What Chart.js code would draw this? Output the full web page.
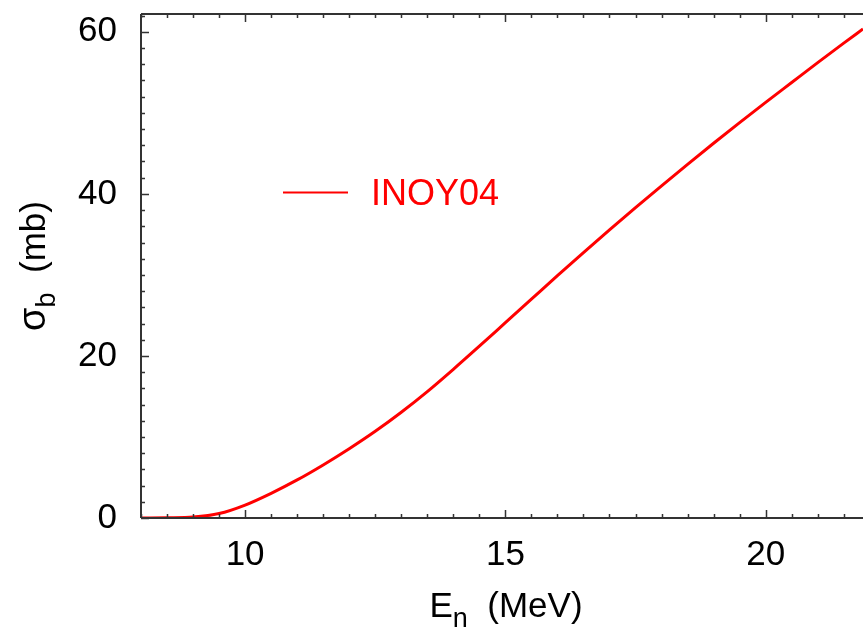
<!DOCTYPE html>
<html>
<head>
<meta charset="utf-8">
<script src="https://cdn.jsdelivr.net/npm/chart.js@4/dist/chart.umd.min.js"></script>
<style>
    html, body { margin: 0; padding: 0; background: #fff; }
    #wrap { width: 863px; height: 630px; position: relative; }
</style>
</head>
<body>
<div id="wrap"><canvas id="sigmaChart"></canvas></div>
<script>
// neutron energy (MeV) and breakup cross section (mb)
const energies = [8, 8.5, 9, 9.5, 10, 10.5, 11, 11.5, 12, 12.5, 13, 13.5, 14, 14.5, 15, 15.5, 16, 16.5, 17, 17.5, 18, 18.5, 19, 19.5, 20, 20.5, 21, 21.5, 21.87];
const sigma = [0, 0.03, 0.12, 0.55, 1.6, 3.05, 4.7, 6.55, 8.55, 10.7, 13.05, 15.6, 18.35, 21.2, 24.1, 27.0, 29.9, 32.75, 35.55, 38.3, 41.0, 43.65, 46.25, 48.8, 51.3, 53.75, 56.2, 58.6, 60.35];
const seriesName = "INOY04";

const xMin = 8, xMax = 21.87, xMajor = 5, xMinor = 0.5;
const yMin = 0, yMax = 62.2, yMajor = 20, yMinor = 2;

const FONT = '"Liberation Sans", Arial, sans-serif';
const AXIS_COLOR = '#333';
const RED = '#ff0000';

// frame, inward ticks, axis titles and legend
const decorations = {
    id: 'decorations',
    afterDraw(chart) {
        const ctx = chart.ctx;
        const a = chart.chartArea;
        const xs = chart.scales.x, ys = chart.scales.y;
        ctx.save();
        ctx.strokeStyle = AXIS_COLOR;
        ctx.lineWidth = 2;
        ctx.beginPath();
        ctx.moveTo(a.left, a.bottom); ctx.lineTo(a.right, a.bottom);
        ctx.moveTo(a.left, a.top); ctx.lineTo(a.right, a.top);
        ctx.moveTo(a.left, a.top); ctx.lineTo(a.left, a.bottom);
        ctx.stroke();

        ctx.lineWidth = 1.5;
        ctx.beginPath();
        for (let v = Math.ceil(xMin / xMinor) * xMinor; v <= xMax + 1e-9; v += xMinor) {
            const px = Math.round(xs.getPixelForValue(v)) + 0.5;
            const major = Math.abs(v / xMajor - Math.round(v / xMajor)) < 1e-6;
            const len = major ? 8 : 4;
            ctx.moveTo(px, a.bottom); ctx.lineTo(px, a.bottom - len);
            ctx.moveTo(px, a.top); ctx.lineTo(px, a.top + len);
        }
        for (let v = yMin; v <= yMax + 1e-9; v += yMinor) {
            const py = Math.round(ys.getPixelForValue(v)) + 0.5;
            const major = Math.abs(v / yMajor - Math.round(v / yMajor)) < 1e-6;
            const len = major ? 8 : 4;
            ctx.moveTo(a.left, py); ctx.lineTo(a.left + len, py);
        }
        ctx.stroke();

        // x title: E_n  (MeV)
        ctx.fillStyle = '#000';
        ctx.textBaseline = 'alphabetic';
        ctx.textAlign = 'left';
        ctx.font = '35px ' + FONT;
        const big = ctx.measureText('E').width;
        ctx.font = '27px ' + FONT;
        const sub = ctx.measureText('n').width;
        ctx.font = '35px ' + FONT;
        const rest = ctx.measureText('  (MeV)').width;
        const x0 = 506 - (big + sub + rest) / 2;
        const yb = 617;
        ctx.fillText('E', x0, yb);
        ctx.font = '27px ' + FONT;
        ctx.fillText('n', x0 + big, yb + 10);
        ctx.font = '35px ' + FONT;
        ctx.fillText('  (MeV)', x0 + big + sub, yb);

        // y title: sigma_b  (mb), rotated
        ctx.save();
        ctx.translate(45, 266);
        ctx.rotate(-Math.PI / 2);
        ctx.font = '38px ' + FONT;
        const s1 = ctx.measureText('σ').width;
        ctx.font = '27px ' + FONT;
        const s2 = ctx.measureText('b').width;
        ctx.font = '35px ' + FONT;
        const s3 = ctx.measureText('  (mb)').width;
        const t0 = -(s1 + s2 + s3) / 2;
        ctx.font = '38px ' + FONT;
        ctx.fillText('σ', t0, 0);
        ctx.font = '27px ' + FONT;
        ctx.fillText('b', t0 + s1, 10);
        ctx.font = '35px ' + FONT;
        ctx.fillText('  (mb)', t0 + s1 + s2, 0);
        ctx.restore();

        // legend
        ctx.strokeStyle = RED;
        ctx.lineWidth = 2;
        ctx.beginPath();
        ctx.moveTo(283, 192.5); ctx.lineTo(348, 192.5);
        ctx.stroke();
        ctx.fillStyle = RED;
        ctx.font = '36px ' + FONT;
        ctx.fillText(seriesName, 371, 205);
        ctx.restore();
    }
};

new Chart(document.getElementById('sigmaChart'), {
    type: 'line',
    data: {
        datasets: [{
            label: seriesName,
            data: energies.map((e, i) => ({ x: e, y: sigma[i] })),
            borderColor: RED,
            borderWidth: 3,
            pointRadius: 0,
            cubicInterpolationMode: 'monotone',
            fill: false
        }]
    },
    options: {
        responsive: true,
        maintainAspectRatio: false,
        animation: false,
        layout: { padding: { top: 14, right: 0, left: 0, bottom: 0 } },
        scales: {
            x: {
                type: 'linear',
                min: xMin,
                max: xMax,
                grid: { display: false, drawTicks: false },
                border: { display: false },
                ticks: {
                    stepSize: xMajor,
                    includeBounds: false,
                    color: '#000',
                    font: { family: FONT, size: 35 },
                    padding: 16,
                    maxRotation: 0
                },
                afterFit: (scale) => {
                    scale.height = 112;
                    scale.paddingLeft = 0;
                    scale.paddingRight = 0;
                }
            },
            y: {
                min: yMin,
                max: yMax,
                grid: { display: false, drawTicks: false },
                border: { display: false },
                ticks: {
                    stepSize: yMajor,
                    includeBounds: false,
                    color: '#000',
                    font: { family: FONT, size: 35 },
                    padding: 24
                },
                afterFit: (scale) => {
                    scale.width = 141;
                    scale.paddingTop = 0;
                    scale.paddingBottom = 0;
                }
            }
        },
        plugins: {
            legend: { display: false },
            tooltip: { enabled: false }
        }
    },
    plugins: [decorations]
});
</script>
</body>
</html>
